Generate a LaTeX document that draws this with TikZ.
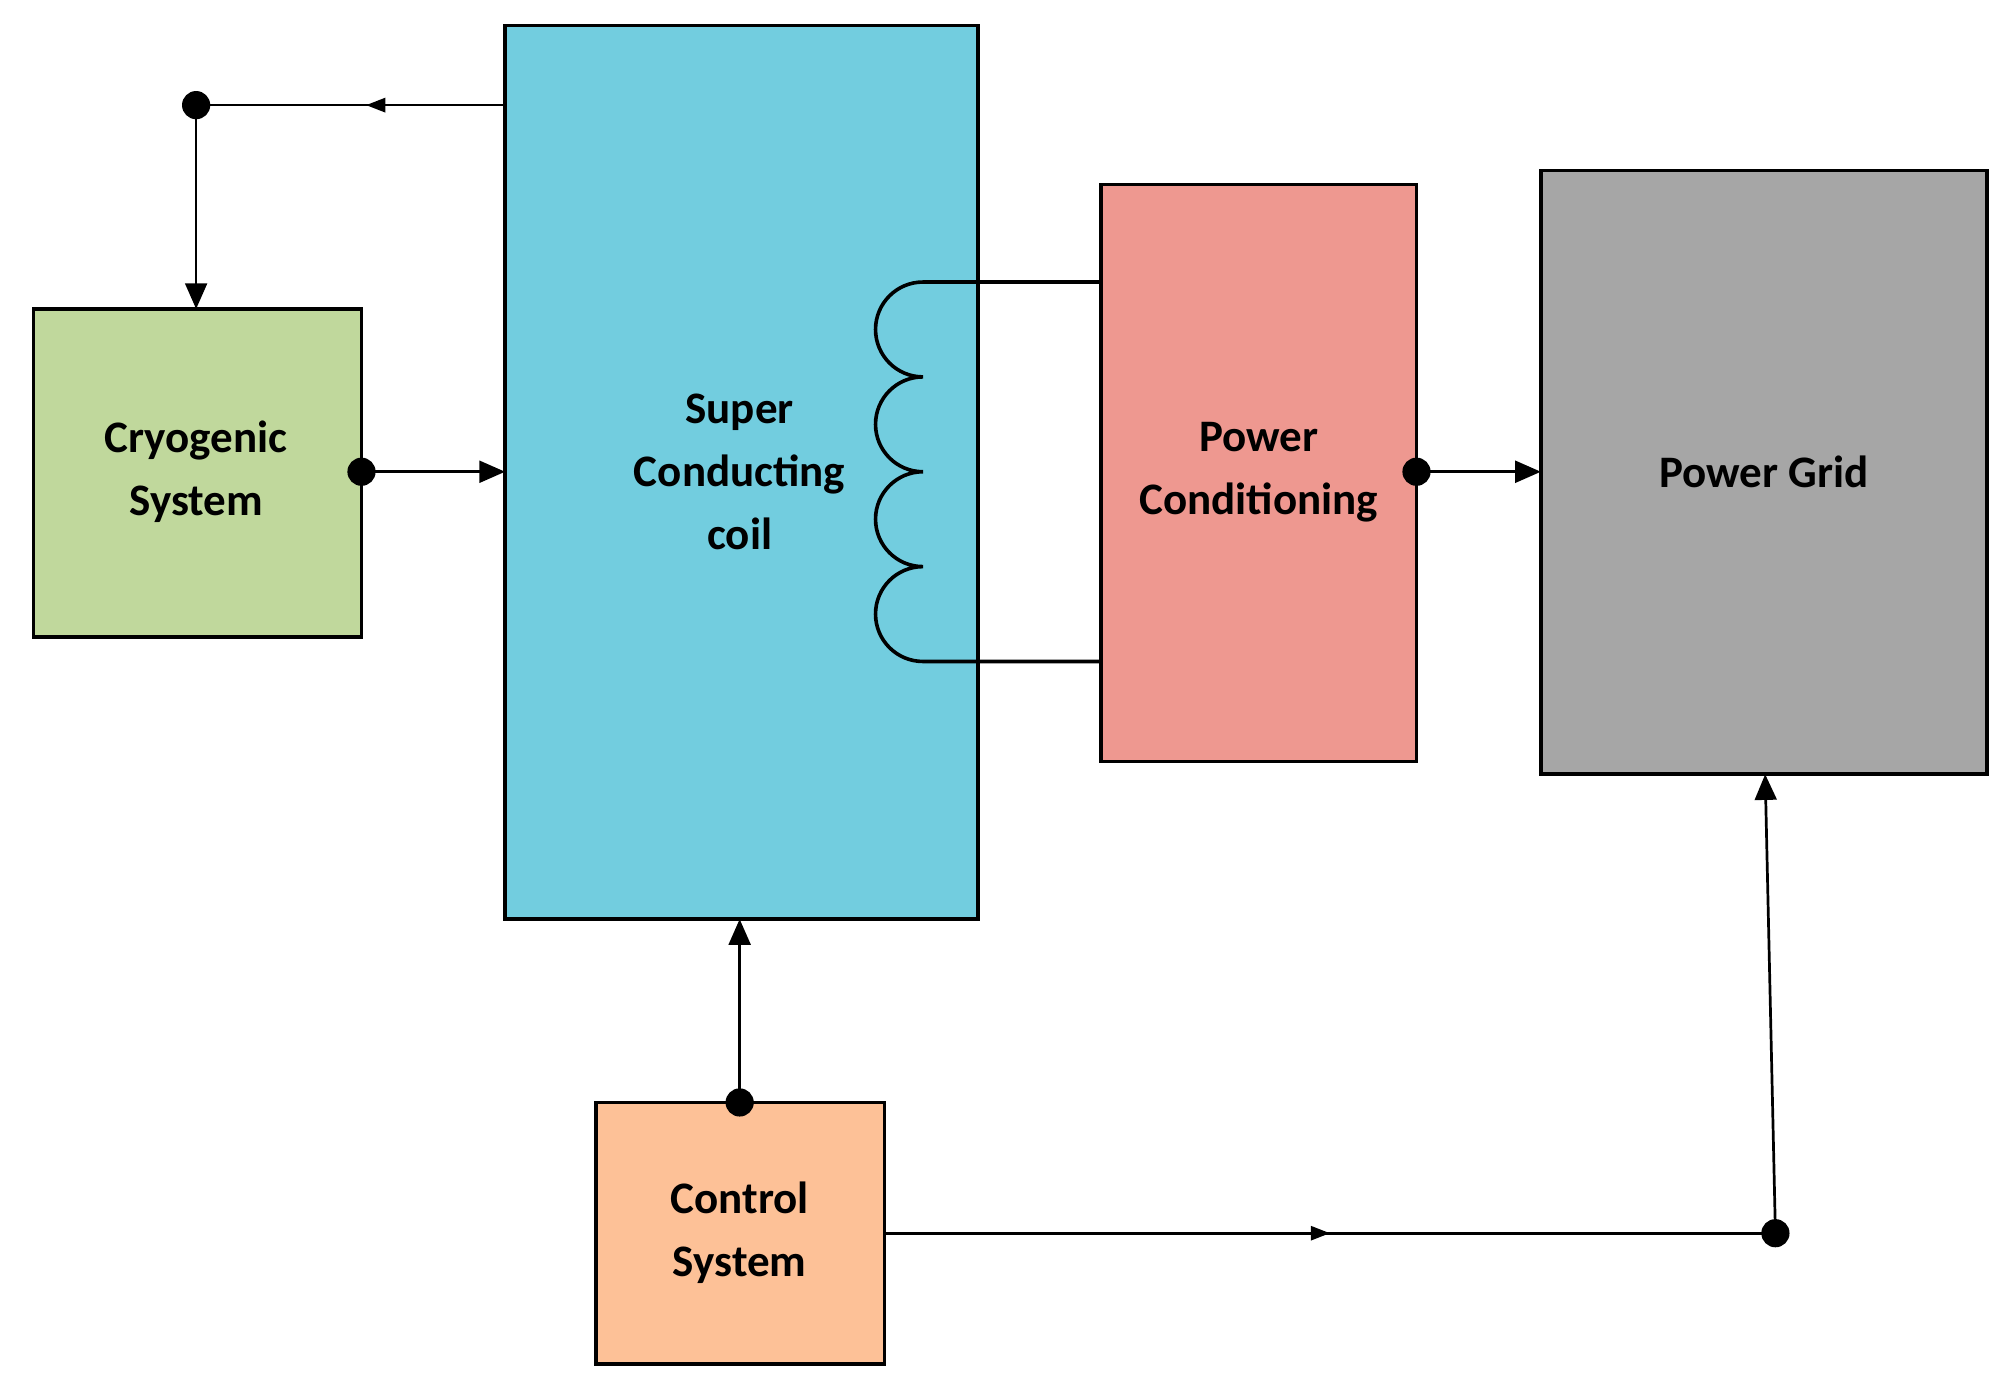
\documentclass[tikz,border=0pt]{standalone}
\usepackage{fontspec}
\setmainfont{Carlito}
\usetikzlibrary{arrows.meta,decorations.markings}
\definecolor{coil}{HTML}{72CDDF}
\definecolor{cryo}{HTML}{C0D89C}
\definecolor{pcond}{HTML}{EE9890}
\definecolor{grid}{HTML}{A6A6A6}
\definecolor{ctrl}{HTML}{FDC197}
\begin{document}
\begin{tikzpicture}[x=0.02cm,y=-0.02cm,
  box/.style={draw,line width=1.6pt,inner sep=0pt},
  lbl/.style={font=\fontsize{20}{28}\selectfont\bfseries,align=center},
  dot/.style={circle,fill,inner sep=0pt,minimum size=0.44cm},
  ln/.style={line width=1.2pt},
  arr/.style={ln,-{Triangle[length=0.4cm,width=0.34cm]}},
  mid/.style={ln,postaction={decorate},decoration={markings,mark=at position #1 with {\arrow{Triangle[length=0.3cm,width=0.22cm]}}}}]
\useasboundingbox (0,0) rectangle (1568,1090);
\fill[white] (0,0) rectangle (1568,1090);
\draw[box,fill=coil] (394,20) rectangle (763,717);
\draw[box,fill=cryo] (26,241) rectangle (282,497);
\draw[box,fill=pcond] (859,144) rectangle (1105,594);
\draw[box,fill=grid] (1202,133) rectangle (1550,604);
\draw[box,fill=ctrl] (465,860) rectangle (690,1064);
\node[lbl] (tc) at (577,368) {Super\\Conducting\\coil};
\node[lbl] (tcr) at (153,368) {Cryogenic\\System};
\node[lbl] (tp) at (982,368) {Power\\Conditioning};
\node[lbl] (tg) at (1376,368) {Power Grid};
\node[lbl] (tct) at (577,962) {Control\\System};
\coordinate (c1) at (394,82);
\node[dot] (d1) at (153,82) {};
\coordinate (c2) at (153,241);
\node[dot] (d2) at (282,368) {};
\coordinate (c3) at (394,368);
\node[dot] (d3) at (1105,368) {};
\coordinate (c4) at (1202,368);
\node[dot] (d4) at (577,860) {};
\coordinate (c5) at (577,717);
\coordinate (c6) at (690,962);
\node[dot] (d5) at (1385,962) {};
\coordinate (c7) at (1377,604);
\draw[mid=0.45] (c1) -- (d1.center);
\draw[arr] (d1.center) -- (c2);
\draw[arr] (d2.center) -- (c3);
\draw[arr] (d3.center) -- (c4);
\draw[arr] (d4.center) -- (c5);
\draw[mid=0.5] (c6) -- (d5.center);
\draw[arr] (d5.center) -- (c7);
\draw[line width=1.6pt] (859,220) -- (720,220)
  arc[start angle=270,end angle=90,radius=37]
  arc[start angle=270,end angle=90,radius=37]
  arc[start angle=270,end angle=90,radius=37]
  arc[start angle=270,end angle=90,radius=37] -- (859,516);
\end{tikzpicture}
\end{document}
